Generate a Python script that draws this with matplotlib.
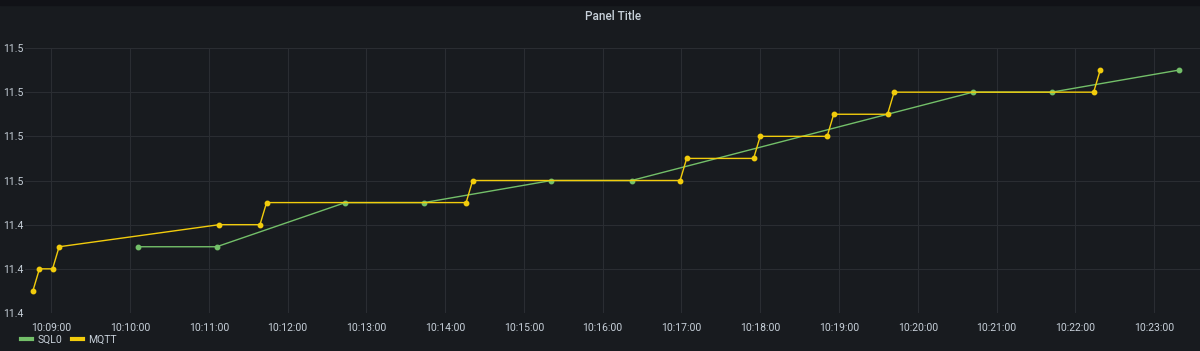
import matplotlib
matplotlib.use("Agg")
import matplotlib.pyplot as plt
import matplotlib.dates as mdates
from datetime import datetime

plt.rcParams['font.family'] = ['Roboto', 'DejaVu Sans']

bg = "#181b1f"
txt = "#c7d0d9"
grid_c = "#2a2d32"
sql_color = "#73bf69"
mqtt_color = "#f2cc0c"

day = "2023-01-01 "
sql_times = ["10:10:06", "10:11:06", "10:12:44", "10:13:44", "10:15:21",
             "10:16:22", "10:20:42", "10:21:42", "10:23:19"]
sql_vals = [11.42, 11.42, 11.44, 11.44, 11.45, 11.45, 11.49, 11.49, 11.50]

mqtt_times = ["10:08:46", "10:08:51", "10:09:01", "10:09:06", "10:11:08",
              "10:11:39", "10:11:44", "10:14:16", "10:14:21", "10:16:59",
              "10:17:04", "10:17:55", "10:18:00", "10:18:51", "10:18:56",
              "10:19:37", "10:19:42", "10:22:14", "10:22:19"]
mqtt_vals = [11.40, 11.41, 11.41, 11.42, 11.43, 11.43, 11.44, 11.44, 11.45, 11.45,
             11.46, 11.46, 11.47, 11.47, 11.48, 11.48, 11.49, 11.49, 11.50]

y_ticks = [11.39, 11.41, 11.43, 11.45, 11.47, 11.49, 11.51]
y_labels = ["11.4", "11.4", "11.4", "11.5", "11.5", "11.5", "11.5"]

to_dt = lambda s: datetime.strptime(day + s, "%Y-%m-%d %H:%M:%S")
sql_x = [to_dt(t) for t in sql_times]
mqtt_x = [to_dt(t) for t in mqtt_times]

fig = plt.figure(figsize=(12, 3.51), dpi=100, facecolor=bg)
fig.patches.append(plt.Rectangle((0, 1 - 5 / 351), 1, 5 / 351, transform=fig.transFigure,
                                 color="#111217", zorder=0))
ax = fig.add_axes([25 / 1200, 1 - 313 / 351, 1 - 25 / 1200, 265 / 351])
ax.set_facecolor(bg)

ax.plot(sql_x, sql_vals, color=sql_color, lw=1, marker="o", ms=3.2, mec=sql_color, label="SQL0")
ax.plot(mqtt_x, mqtt_vals, color=mqtt_color, lw=1, marker="o", ms=3.2, mec=mqtt_color, label="MQTT")

ax.set_xlim(to_dt("10:08:40"), to_dt("10:23:35"))
ax.set_ylim(11.39, 11.51)
ax.set_yticks(y_ticks)
ax.set_yticklabels(y_labels)
ax.xaxis.set_major_locator(mdates.MinuteLocator())
ax.xaxis.set_major_formatter(mdates.DateFormatter("%H:%M:%S"))

ax.grid(True, color=grid_c, lw=0.8)
for s in ax.spines.values():
    s.set_visible(False)
ax.tick_params(length=0, colors=txt, labelsize=7.5)
ax.tick_params(axis="y", pad=16)
ax.tick_params(axis="x", pad=7)
for lab in ax.get_yticklabels():
    lab.set_ha("left")

fig.text(0.511, 1 - 17 / 351, "Panel Title", color=txt, fontsize=8.5, fontweight="medium",
         ha="center", va="center")

leg = ax.legend(loc="center left", bbox_to_anchor=(-4 / 1175, -27 / 265), ncol=2, frameon=False,
                fontsize=7.5, handlelength=1.1, handletextpad=0.5, columnspacing=0.9,
                borderaxespad=0, borderpad=0)
for h in leg.legend_handles:
    h.set_marker("")
    h.set_linewidth(3)
for t in leg.get_texts():
    t.set_color(txt)

fig.savefig("out.png", facecolor=bg)
